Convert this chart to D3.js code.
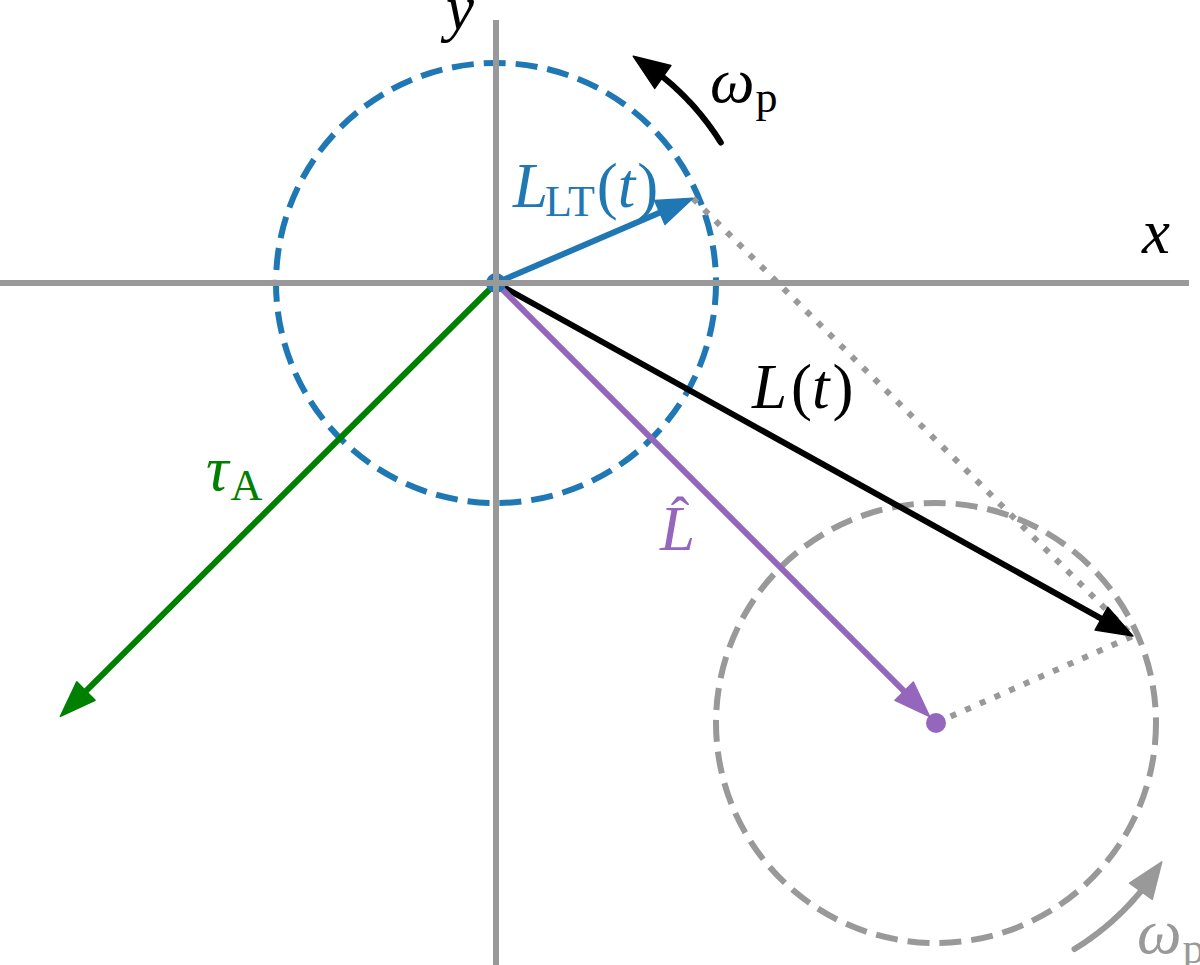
<!DOCTYPE html>
<html>
<head>
<meta charset="utf-8">
<script src="https://cdn.jsdelivr.net/npm/d3@7"></script>
<style>
  html, body { margin: 0; padding: 0; background: #fff; }
  svg { display: block; }
  text, tspan { font-family: "Liberation Serif", "Times New Roman", "DejaVu Serif", serif; }
</style>
</head>
<body>
<svg id="chart" width="1200" height="965"></svg>
<script>
// ---- data (unit = radius of the precession circle) ----
const vectorNames  = ["LLT", "L", "Lhat", "tauA"];
const vectorX      = [0.895, 2.895, 2.0, -1.98];
const vectorY      = [0.385, -1.605, -2.0, -1.97];
const vectorColors = ["#1f77b4", "#000000", "#9467bd", "#008000"];

const circleCX     = [0, 2.0];
const circleCY     = [0, -2.0];
const circleR      = [1, 1];
const circleColors = ["#1f77b4", "#999999"];

const arcCX        = [0, 2.0];
const arcCY        = [0, -2.0];
const arcR         = [1.205, 1.205];
const arcFromDeg   = [32, -58.5];
const arcToDeg     = [58.8, -31.6];
const arcColors    = ["#000000", "#999999"];

const xAxisExtent  = [-2.255, 3.15];
const yAxisExtent  = [-3.11, 1.195];

// ---- scales ----
const x = d3.scaleLinear().domain([0, 1]).range([496, 716]);
const y = d3.scaleLinear().domain([0, 1]).range([283, 63]);
const svg = d3.select("#chart");

// dashed circles
const circles = d3.range(circleCX.length);
svg.append("g").selectAll("circle").data(circles).join("circle")
  .attr("cx", i => x(circleCX[i]))
  .attr("cy", i => y(circleCY[i]))
  .attr("r", i => x(circleR[i]) - x(0))
  .attr("fill", "none")
  .attr("stroke", i => circleColors[i])
  .attr("stroke-width", 6)
  .attr("stroke-dasharray", "22,10");

// dotted parallelogram sides
const iLLT = 0, iL = 1, iLhat = 2, iTau = 3;
const dotted = [
  [vectorX[iLLT], vectorY[iLLT], vectorX[iL], vectorY[iL]],
  [vectorX[iLhat], vectorY[iLhat], vectorX[iL], vectorY[iL]]
];
svg.append("g").selectAll("line").data(dotted).join("line")
  .attr("x1", d => x(d[0])).attr("y1", d => y(d[1]))
  .attr("x2", d => x(d[2])).attr("y2", d => y(d[3]))
  .attr("stroke", "#999999").attr("stroke-width", 6)
  .attr("stroke-dasharray", "6,10");

// arrow helper (pixel space)
function arrowHead(g, tx, ty, ux, uy, len, half, color) {
  const bx = tx - ux * len, by = ty - uy * len;
  const px = -uy, py = ux;
  g.append("path")
    .attr("d", `M${tx},${ty}L${bx + px * half},${by + py * half}L${bx - px * half},${by - py * half}Z`)
    .attr("fill", color).attr("stroke", color).attr("stroke-width", 1.5).attr("stroke-linejoin", "round");
}

const arrows = svg.append("g");
const drawOrder = [iTau, iL, iLhat, iLLT];
drawOrder.forEach(i => {
  const x0 = x(0), y0 = y(0);
  let tx = x(vectorX[i]), ty = y(vectorY[i]);
  const dx = tx - x0, dy = ty - y0, len = Math.hypot(dx, dy);
  const ux = dx / len, uy = dy / len;
  if (i === iLhat) { tx -= ux * 9; ty -= uy * 9; }
  const headLen = 36, half = 13;
  arrows.append("line")
    .attr("x1", x0).attr("y1", y0)
    .attr("x2", tx - ux * (headLen - 4)).attr("y2", ty - uy * (headLen - 4))
    .attr("stroke", vectorColors[i]).attr("stroke-width", 6);
  arrowHead(arrows, tx, ty, ux, uy, headLen, half, vectorColors[i]);
});

// purple end dot
svg.append("circle")
  .attr("cx", x(vectorX[iLhat])).attr("cy", y(vectorY[iLhat]))
  .attr("r", 10).attr("fill", "#9467bd");

// origin dot
svg.append("circle")
  .attr("cx", x(0)).attr("cy", y(0)).attr("r", 10).attr("fill", "#1f77b4");

// precession arcs
d3.range(arcCX.length).forEach(i => {
  const cx = x(arcCX[i]), cy = y(arcCY[i]);
  const rpx = x(arcR[i]) - x(0);
  const a0 = arcFromDeg[i] * Math.PI / 180, a1 = arcToDeg[i] * Math.PI / 180;
  const headLen = 36, half = 14;
  const aBase = a1 - headLen / rpx;
  const pts = d3.range(0, 41).map(k => {
    const a = a0 + (aBase + 0.02 - a0) * k / 40;
    return [cx + rpx * Math.cos(a), cy - rpx * Math.sin(a)];
  });
  svg.append("path").attr("d", d3.line()(pts))
    .attr("fill", "none").attr("stroke", arcColors[i])
    .attr("stroke-width", 6).attr("stroke-linecap", "round");
  const tx = cx + rpx * Math.cos(a1), ty = cy - rpx * Math.sin(a1);
  const bx = cx + rpx * Math.cos(aBase), by = cy - rpx * Math.sin(aBase);
  const L = Math.hypot(tx - bx, ty - by);
  arrowHead(svg, tx, ty, (tx - bx) / L, (ty - by) / L, headLen, half, arcColors[i]);
});

// axes (on top)
const axes = svg.append("g");
axes.append("line")
  .attr("x1", x(xAxisExtent[0])).attr("x2", x(xAxisExtent[1]))
  .attr("y1", y(0)).attr("y2", y(0))
  .attr("stroke", "#999999").attr("stroke-width", 6);
axes.append("line")
  .attr("x1", x(0)).attr("x2", x(0))
  .attr("y1", y(yAxisExtent[1])).attr("y2", y(yAxisExtent[0]))
  .attr("stroke", "#999999").attr("stroke-width", 6);

// labels
const BIG = 63, SUB = 44;
function label(px, py, color, parts) {
  const t = svg.append("text").attr("x", px).attr("y", py).attr("fill", color)
    .attr("font-size", BIG);
  parts.forEach(p => {
    const s = t.append("tspan").text(p.t)
      .attr("font-style", p.it ? "italic" : "normal")
      .attr("font-size", p.sub ? SUB : BIG);
    if (p.dy) s.attr("dy", p.dy);
    if (p.dx) s.attr("dx", p.dx);
  });
  return t;
}
label(446, 29, "#000", [{ t: "y", it: true }]);
label(1142, 253, "#000", [{ t: "x", it: true }]);
label(513, 207, "#1f77b4", [
  { t: "L", it: true }, { t: "LT", sub: true, dy: 9, dx: -3 },
  { t: "(", dy: -9, dx: 2 }, { t: "t", it: true }, { t: ")", dx: 2 }]);
label(710, 102, "#000", [{ t: "ω", it: true }, { t: "p", sub: true, dy: 10, dx: 1 }]);
label(752, 408, "#000", [{ t: "L", it: true }, { t: "(", dx: 4 }, { t: "t", it: true }, { t: ")", dx: 3 }]);
label(206, 490, "#008000", [{ t: "τ", it: true }, { t: "A", sub: true, dy: 10, dx: 2 }]);
label(660, 550, "#9467bd", [{ t: "L", it: true }]);
svg.append("text").attr("x", 680).attr("y", 536).attr("fill", "#9467bd")
  .attr("font-size", 56).attr("text-anchor", "middle").text("ˆ");
label(1137, 953, "#999999", [{ t: "ω", it: true }, { t: "p", sub: true, dy: 10, dx: 1 }]);
</script>
</body>
</html>
